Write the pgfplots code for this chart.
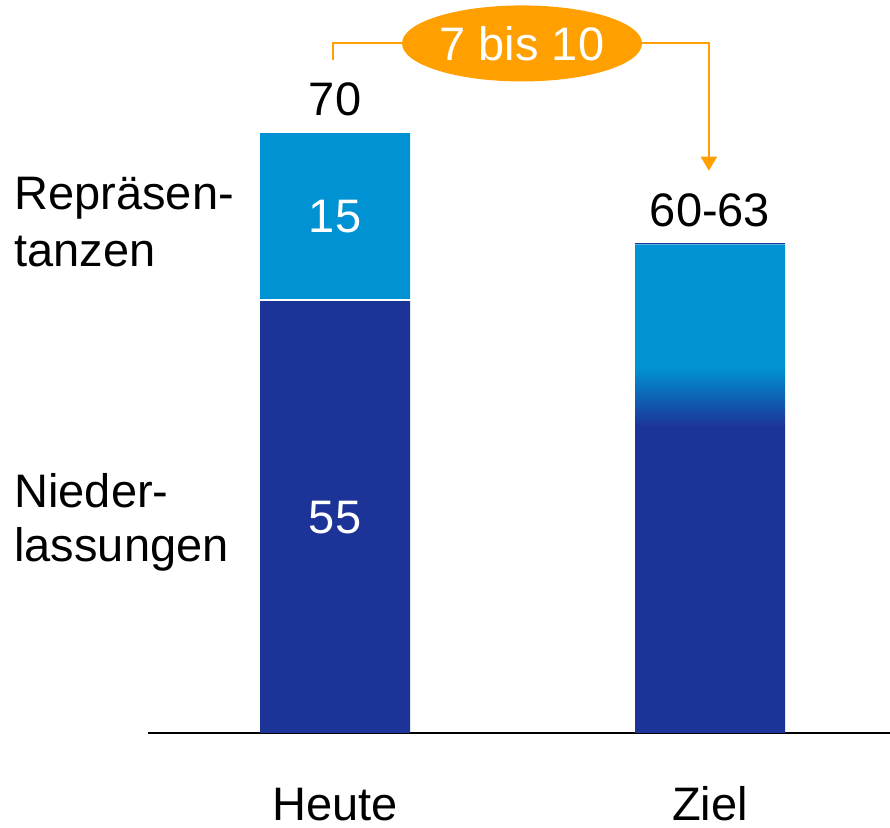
\documentclass[border=0pt]{standalone}
\usepackage{pgfplots}
\pgfplotsset{compat=1.18}
\usepackage{fontspec}
\setmainfont{Liberation Sans}
\usetikzlibrary{arrows.meta,shapes.geometric}
\definecolor{dblue}{RGB}{28,51,151}
\definecolor{lblue}{RGB}{0,146,210}
\definecolor{orng}{RGB}{255,160,0}
\begin{document}
\begin{tikzpicture}[font=\fontsize{23.5}{28}\selectfont]
\useasboundingbox (0,0) rectangle (445pt,414pt);
\begin{axis}[
  at={(74pt,47.5pt)}, anchor=south west,
  scale only axis, width=371pt, height=366.5pt,
  xmin=-0.4987, xmax=1.48, ymin=0, ymax=85.52,
  ybar stacked, bar width=0.4,
  axis x line*=bottom, axis y line=none,
  x axis line style={line width=1pt},
  xtick={0,1}, xticklabels={Heute,Ziel},
  major tick length=0pt,
  xticklabel style={anchor=base, yshift=-44pt, inner sep=0pt},
  ytick=\empty,
  clip=false,
]
% Niederlassungen (dark)
\addplot[fill=dblue, draw=none] coordinates {(0,50.4) (1,35.7)};
% white separator
\addplot[fill=white, draw=none] coordinates {(0,0.23) (1,0)};
% transition (Ziel only)
\addplot[draw=none, bottom color=dblue, top color=lblue] coordinates {(0,0) (1,6.9)};
% Repräsentanzen (light)
\addplot[fill=lblue, draw=none] coordinates {(0,19.37) (1,14.4)};
% thin dark cap on Ziel
\addplot[fill=dblue, draw=none] coordinates {(0,0) (1,0.2)};

\coordinate (l70) at (axis cs:0,72.1);
\coordinate (l6063) at (axis cs:1,59.04);
\coordinate (l15) at (axis cs:0,58.34);
\coordinate (l55) at (axis cs:0,23.22);
\coordinate (r1) at (axis cs:-0.856,61.02);
\coordinate (r2) at (axis cs:-0.856,54.37);
\coordinate (n1) at (axis cs:-0.856,26.25);
\coordinate (n2) at (axis cs:-0.856,20.0);
\coordinate (bl) at (axis cs:-0.005,78.5);
\coordinate (ec) at (axis cs:0.4987,80.45);
\coordinate (br) at (axis cs:0.997,65.6);
\end{axis}

% value labels
\node[anchor=base, inner sep=0pt] at (l70) {70};
\node[anchor=base, inner sep=0pt] at (l6063) {60-63};
\node[anchor=base, inner sep=0pt, text=white] at (l15) {15};
\node[anchor=base, inner sep=0pt, text=white] at (l55) {55};

% category legend on the left
\node[anchor=base west, inner sep=0pt] at (r1) {Repräsen-};
\node[anchor=base west, inner sep=0pt] at (r2) {tanzen};
\node[anchor=base west, inner sep=0pt] at (n1) {Nieder-};
\node[anchor=base west, inner sep=0pt] at (n2) {lassungen};

% orange bracket with callout
\draw[orng, line width=1pt] (bl) |- (ec);
\draw[orng, line width=1pt, -{Triangle[width=8pt,length=7pt]}] (ec) -| (br);
\node[ellipse, fill=orng, minimum width=120pt, minimum height=38pt, inner sep=0pt, text=white] at (ec) {7 bis 10};
\end{tikzpicture}
\end{document}
